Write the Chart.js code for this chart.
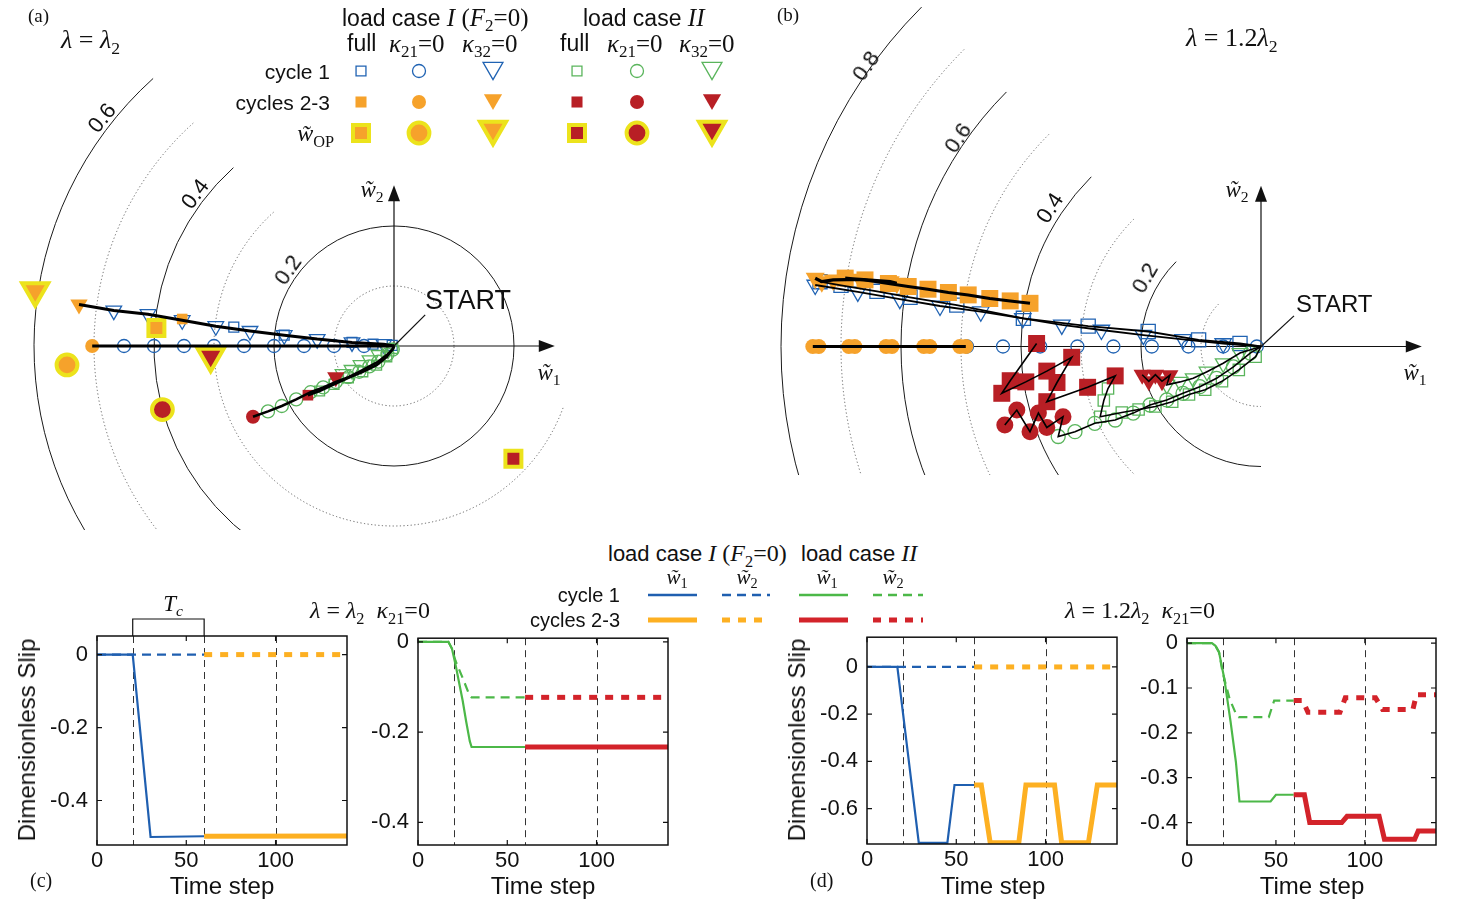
<!DOCTYPE html>
<html>
<head>
<meta charset="utf-8">
<script src="https://cdn.jsdelivr.net/npm/chart.js@4.4.0/dist/chart.umd.min.js"></script>
<style>
  body { margin: 0; background: #fff; width: 1460px; height: 905px; overflow: hidden; position: relative;
         font-family: 'Liberation Sans', Arial, sans-serif; color: #111; }
  canvas { position: absolute; }
  .t { position: absolute; white-space: nowrap; line-height: 1; transform: translateY(-50%); z-index: 5; }
  .r { transform: translate(-100%, -50%); }
  .c { transform: translate(-50%, -50%); }
  .s { font-family: 'Liberation Serif', 'Times New Roman', serif; }
  sub { font-size: 0.68em; vertical-align: -0.35em; line-height: 0; }
  svg { position: absolute; z-index: 4; }
</style>
</head>
<body>

<canvas id="pa" width="770" height="540" style="left:0;top:0"></canvas>
<canvas id="pb" width="690" height="540" style="left:770px;top:0"></canvas>
<canvas id="cl" width="337" height="300" style="left:22px;top:590px"></canvas>
<canvas id="cr" width="337" height="274" style="left:343px;top:616px"></canvas>
<canvas id="dl" width="337" height="274" style="left:792px;top:615px"></canvas>
<canvas id="dr" width="336" height="274" style="left:1112px;top:616px"></canvas>

<!-- panel (a) texts -->
<div class="t s" style="left:28px;top:15px;font-size:19px">(a)</div>
<div class="t s" style="left:61px;top:40px;font-size:26px"><i>λ</i> = <i>λ</i><sub>2</sub></div>
<div class="t" style="left:342px;top:17px;font-size:23px">load case <span class="s" style="font-size:25px"><i>I</i> (<i>F</i><sub>2</sub>=0)</span></div>
<div class="t" style="left:583px;top:17px;font-size:23px">load case <span class="s" style="font-size:25px"><i>II</i></span></div>
<div class="t" style="left:347px;top:43px;font-size:23px">full</div>
<div class="t s" style="left:389px;top:43px;font-size:25px"><i>κ</i><sub>21</sub>=0</div>
<div class="t s" style="left:462px;top:43px;font-size:25px"><i>κ</i><sub>32</sub>=0</div>
<div class="t" style="left:560px;top:43px;font-size:23px">full</div>
<div class="t s" style="left:607px;top:43px;font-size:25px"><i>κ</i><sub>21</sub>=0</div>
<div class="t s" style="left:679px;top:43px;font-size:25px"><i>κ</i><sub>32</sub>=0</div>
<div class="t r" style="left:330px;top:71px;font-size:21px">cycle 1</div>
<div class="t r" style="left:330px;top:102px;font-size:21px">cycles 2-3</div>
<div class="t r s" style="left:334px;top:133px;font-size:24px"><i>w&#771;</i><sub>OP</sub></div>
<div class="t c" style="left:102px;top:118px;font-size:22px;transform:translate(-50%,-50%) rotate(-52deg)">0.6</div>
<div class="t c" style="left:195px;top:194px;font-size:22px;transform:translate(-50%,-50%) rotate(-53deg)">0.4</div>
<div class="t c" style="left:288px;top:270px;font-size:22px;transform:translate(-50%,-50%) rotate(-55deg)">0.2</div>
<div class="t c s" style="left:372px;top:189px;font-size:23px"><i>w&#771;</i><sub>2</sub></div>
<div class="t c s" style="left:549px;top:372px;font-size:23px"><i>w&#771;</i><sub>1</sub></div>
<div class="t" style="left:425px;top:300px;font-size:27px">START</div>

<!-- panel (b) texts -->
<div class="t s" style="left:777px;top:14px;font-size:19px">(b)</div>
<div class="t s" style="left:1186px;top:38px;font-size:26px"><i>λ</i> = 1.2<i>λ</i><sub>2</sub></div>
<div class="t c" style="left:866px;top:66px;font-size:22px;transform:translate(-50%,-50%) rotate(-55deg)">0.8</div>
<div class="t c" style="left:958px;top:138px;font-size:22px;transform:translate(-50%,-50%) rotate(-56deg)">0.6</div>
<div class="t c" style="left:1050px;top:208px;font-size:22px;transform:translate(-50%,-50%) rotate(-57deg)">0.4</div>
<div class="t c" style="left:1145px;top:278px;font-size:22px;transform:translate(-50%,-50%) rotate(-60deg)">0.2</div>
<div class="t c s" style="left:1237px;top:189px;font-size:23px"><i>w&#771;</i><sub>2</sub></div>
<div class="t c s" style="left:1415px;top:372px;font-size:23px"><i>w&#771;</i><sub>1</sub></div>
<div class="t" style="left:1296px;top:304px;font-size:24px">START</div>

<!-- lower legend -->
<div class="t" style="left:608px;top:553px;font-size:22px">load case <span class="s" style="font-size:24px"><i>I</i> (<i>F</i><sub>2</sub>=0)</span></div>
<div class="t" style="left:801px;top:553px;font-size:22px">load case <span class="s" style="font-size:24px"><i>II</i></span></div>
<div class="t c s" style="left:677px;top:577px;font-size:21px"><i>w&#771;</i><sub>1</sub></div>
<div class="t c s" style="left:747px;top:577px;font-size:21px"><i>w&#771;</i><sub>2</sub></div>
<div class="t c s" style="left:827px;top:577px;font-size:21px"><i>w&#771;</i><sub>1</sub></div>
<div class="t c s" style="left:893px;top:577px;font-size:21px"><i>w&#771;</i><sub>2</sub></div>
<div class="t r" style="left:620px;top:595px;font-size:20px">cycle 1</div>
<div class="t r" style="left:620px;top:620px;font-size:20px">cycles 2-3</div>
<svg width="300" height="50" style="left:640px;top:585px">
  <line x1="8" y1="10" x2="57" y2="10" stroke="#1f5fb0" stroke-width="2.5"/>
  <line x1="82" y1="10" x2="130" y2="10" stroke="#1f5fb0" stroke-width="2.5" stroke-dasharray="9 6"/>
  <line x1="159" y1="10" x2="208" y2="10" stroke="#4cb848" stroke-width="2.5"/>
  <line x1="233" y1="10" x2="283" y2="10" stroke="#4cb848" stroke-width="2.5" stroke-dasharray="9 6"/>
  <line x1="8" y1="35" x2="57" y2="35" stroke="#fdb022" stroke-width="5"/>
  <line x1="82" y1="35" x2="130" y2="35" stroke="#fdb022" stroke-width="5" stroke-dasharray="8 8"/>
  <line x1="159" y1="35" x2="208" y2="35" stroke="#d3232a" stroke-width="5"/>
  <line x1="233" y1="35" x2="283" y2="35" stroke="#d3232a" stroke-width="5" stroke-dasharray="8 8"/>
</svg>

<!-- lower panels texts -->
<div class="t s" style="left:310px;top:610px;font-size:24px"><i>λ</i> = <i>λ</i><sub>2</sub>&nbsp;&nbsp;<i>κ</i><sub>21</sub>=0</div>
<div class="t s" style="left:1065px;top:610px;font-size:24px"><i>λ</i> = 1.2<i>λ</i><sub>2</sub>&nbsp;&nbsp;<i>κ</i><sub>21</sub>=0</div>
<div class="t c s" style="left:173px;top:603px;font-size:23px"><i>T</i><sub><i>c</i></sub></div>
<div class="t c" style="left:27px;top:740px;font-size:24px;transform:translate(-50%,-50%) rotate(-90deg)">Dimensionless Slip</div>
<div class="t c" style="left:797px;top:740px;font-size:24px;transform:translate(-50%,-50%) rotate(-90deg)">Dimensionless Slip</div>
<div class="t c" style="left:222px;top:886px;font-size:24px">Time step</div>
<div class="t c" style="left:543px;top:886px;font-size:24px">Time step</div>
<div class="t c" style="left:993px;top:886px;font-size:24px">Time step</div>
<div class="t c" style="left:1312px;top:886px;font-size:24px">Time step</div>
<div class="t s" style="left:30px;top:880px;font-size:20px">(c)</div>
<div class="t s" style="left:810px;top:880px;font-size:20px">(d)</div>

<script>
/* ================= DATA : panel (a), lambda = lambda2 ================= */
const start = [0, 0];

// load case I, cycle 1 (open blue)
const aFullC1 = [[-0.003, 0.001], [-0.035, 0.003], [-0.07, 0.006], [-0.183, 0.018], [-0.267, 0.0315]];
const aK21C1 = [[-0.05, 0], [-0.1, 0], [-0.15, 0], [-0.2, 0], [-0.25, 0], [-0.3, 0], [-0.35, 0], [-0.4, 0], [-0.45, 0]];
const aK32C1 = [[-0.017, 0.003], [-0.07, 0.006], [-0.128, 0.0115], [-0.183, 0.018], [-0.24, 0.025],
                [-0.297, 0.033], [-0.353, 0.043], [-0.41, 0.053], [-0.467, 0.059]];
// load case I, cycles 2-3 (orange)
const aFullC23 = [[-0.353, 0.045]];
const aK21C23 = [[-0.503, 0]];
const aK32C23 = [[-0.525, 0.069]];
// load case II, cycle 1 (open green)
const aIIFullC1 = [[-0.002, -0.004], [-0.012, -0.018], [-0.029, -0.032], [-0.052, -0.043], [-0.076, -0.053],
                   [-0.1, -0.064], [-0.124, -0.075]];
const aIIK21C1 = [[-0.002, -0.006], [-0.011, -0.014], [-0.026, -0.026], [-0.041, -0.034], [-0.058, -0.043],
                  [-0.076, -0.052], [-0.097, -0.06], [-0.118, -0.069], [-0.139, -0.077], [-0.163, -0.089],
                  [-0.187, -0.1], [-0.21, -0.109]];
const aIIK32C1 = [[-0.01, -0.006], [-0.025, -0.015], [-0.04, -0.024], [-0.055, -0.032], [-0.07, -0.04], [-0.085, -0.047]];
// load case II, cycles 2-3 (red)
const aIIFullC23 = [[-0.1435, -0.082]];
const aIIK21C23 = [[-0.235, -0.118]];
const aIIK32C23 = [[-0.097, -0.052]];
// operating points  [full, k21=0, k32=0]
const aOpI = [[-0.396, 0.030], [-0.545, -0.0315], [-0.598, 0.092]];
const aOpII = [[0.199, -0.188], [-0.386, -0.106], [-0.3055, -0.017]];

/* ================= DATA : panel (b), lambda = 1.2 lambda2 ================= */
const bFullC1 = [[-0.035, 0.005], [-0.104, 0.011], [-0.188, 0.025], [-0.288, 0.034], [-0.396, 0.047],
                 [-0.507, 0.069], [-0.585, 0.082], [-0.64, 0.092], [-0.70, 0.102], [-0.735, 0.108]];
const bK21C1 = [[-0.007, 0], [-0.063, 0], [-0.121, 0], [-0.182, 0], [-0.246, 0], [-0.306, 0], [-0.368, 0], [-0.43, 0], [-0.49, 0]];
const bK32C1 = [[-0.063, 0.005], [-0.13, 0.012], [-0.196, 0.019], [-0.266, 0.0275], [-0.332, 0.036], [-0.397, 0.047],
                [-0.467, 0.058], [-0.535, 0.0675], [-0.602, 0.079], [-0.672, 0.091], [-0.743, 0.1025]];
const bFullC23 = [[-0.385, 0.072], [-0.418, 0.076], [-0.452, 0.08], [-0.488, 0.086], [-0.521, 0.09], [-0.555, 0.0955],
                  [-0.588, 0.1], [-0.621, 0.105], [-0.66, 0.111], [-0.693, 0.114]];
const bK21C23 = [[-0.492, 0], [-0.502, 0], [-0.552, 0], [-0.562, 0], [-0.615, 0], [-0.625, 0], [-0.677, 0], [-0.687, 0],
                 [-0.737, 0], [-0.747, 0]];
const bK32C23 = [[-0.607, 0.1055], [-0.618, 0.108], [-0.668, 0.112], [-0.713, 0.111], [-0.732, 0.108], [-0.743, 0.1137]];
const bIIFullC1 = [[-0.009, -0.017], [-0.037, -0.039], [-0.065, -0.058], [-0.093, -0.072], [-0.12, -0.08], [-0.148, -0.092],
                   [-0.176, -0.1], [-0.204, -0.105], [-0.232, -0.11], [-0.268, -0.117], [-0.262, -0.09], [-0.255, -0.07],
                   [-0.243, -0.049]];
const bIIK21C1 = [[-0.018, -0.011], [-0.046, -0.034], [-0.074, -0.053], [-0.102, -0.067], [-0.13, -0.078], [-0.157, -0.089],
                  [-0.185, -0.0975], [-0.213, -0.111], [-0.243, -0.1225], [-0.277, -0.128], [-0.31, -0.142], [-0.338, -0.15]];
const bIIK32C1 = [[-0.035, -0.011], [-0.063, -0.028], [-0.09, -0.042], [-0.113, -0.053], [-0.135, -0.059], [-0.157, -0.064]];
const bIIFullC23 = [[-0.243, -0.049], [-0.289, -0.068], [-0.357, -0.092], [-0.34, -0.06], [-0.3155, -0.018], [-0.357, -0.041],
                    [-0.392, -0.059], [-0.432, -0.078], [-0.418, -0.057], [-0.374, 0.005]];
const bIIK21C23 = [[-0.33, -0.117], [-0.357, -0.135], [-0.371, -0.111], [-0.385, -0.142], [-0.407, -0.106], [-0.427, -0.131]];
const bIIK32C23 = [[-0.152, -0.048], [-0.165, -0.058], [-0.176, -0.047], [-0.187, -0.058], [-0.198, -0.047]];

/* ================= DATA : slip histories (c), (d) ================= */
const xTicks = [0, 50, 100];
const cycleMarks = [20, 60, 100];

// (c) lambda = lambda2, load case I
const cIw1T = [0, 20, 30, 60], cIw1 = [0, 0, -0.5, -0.498];
const cIw1T23 = [60, 140], cIw1_23 = [-0.498, -0.497];
const cIw2T = [0, 60], cIw2 = [0, 0];
const cIw2T23 = [60, 140], cIw2_23 = [0, 0];
// (c) lambda = lambda2, kappa21 = 0, load case II
const cIIw1T = [0, 17, 19, 21, 23, 25, 27, 29, 30, 60];
const cIIw1 = [0, 0, -0.015, -0.05, -0.09, -0.13, -0.177, -0.22, -0.233, -0.233];
const cIIw1T23 = [60, 140], cIIw1_23 = [-0.233, -0.233];
const cIIw2T = [0, 17, 19, 21, 25, 29, 30, 60];
const cIIw2 = [0, 0, -0.015, -0.042, -0.08, -0.12, -0.123, -0.123];
const cIIw2T23 = [60, 140], cIIw2_23 = [-0.123, -0.123];
// (d) lambda = 1.2 lambda2, load case I
const dIw1T = [0, 17, 29, 45, 49, 60], dIw1 = [0, 0, -0.745, -0.745, -0.5, -0.5];
const dIw1T23 = [60, 64, 69, 85, 89, 105, 109, 124, 129, 140];
const dIw1_23 = [-0.5, -0.5, -0.745, -0.745, -0.5, -0.5, -0.745, -0.745, -0.5, -0.5];
const dIw2T = [0, 60], dIw2 = [0, 0];
const dIw2T23 = [60, 140], dIw2_23 = [0, 0];
// (d) lambda = 1.2 lambda2, kappa21 = 0, load case II
const dIIw1T = [0, 14, 16, 18, 21, 24.5, 27.5, 29.5, 47, 50, 60];
const dIIw1 = [0, 0, -0.006, -0.02, -0.08, -0.175, -0.265, -0.353, -0.353, -0.338, -0.338];
const dIIw1T23 = [60, 66, 69, 87, 90, 108, 111, 128, 130, 140];
const dIIw1_23 = [-0.338, -0.338, -0.4, -0.4, -0.386, -0.386, -0.437, -0.437, -0.419, -0.419];
const dIIw2T = [0, 14, 16, 18, 20, 24, 28, 29, 46, 49, 60];
const dIIw2 = [0, 0, -0.006, -0.02, -0.065, -0.125, -0.162, -0.165, -0.165, -0.128, -0.128];
const dIIw2T23 = [60, 65, 68, 86, 89, 106, 110, 127, 129, 140];
const dIIw2_23 = [-0.128, -0.128, -0.154, -0.154, -0.122, -0.122, -0.148, -0.148, -0.115, -0.115];

/* ================= STYLE ================= */
const BLUE = '#2063b3', ORANGE = '#f6a22b', GREEN = '#5ab55c', RED = '#b81f25', YELLOW = '#ece31c';
const L_BLUE = '#1f5fb0', L_ORANGE = '#fdb022', L_GREEN = '#4cb848', L_RED = '#d3232a';

Chart.defaults.font.family = "'Liberation Sans', Arial, sans-serif";
Chart.defaults.color = '#111';

const pts = arr => arr.map(([x, y]) => ({ x, y }));

function marker(data, style, r, color, open, extra) {
  const tri = style === 'tri';
  return Object.assign({
    data: pts(data), showLine: false,
    pointStyle: tri ? 'triangle' : style,
    pointRotation: tri ? 180 : 0,
    pointRadius: r,
    pointBackgroundColor: open ? 'rgba(0,0,0,0)' : color,
    pointBorderColor: color,
    pointBorderWidth: open ? 1.3 : 0
  }, extra || {});
}
function opMarker(p, style, r, color) {
  return marker([p], style, r, color, false, { pointBorderColor: YELLOW, pointBorderWidth: 4 });
}
function path(data, w) {
  return { data: pts(data), showLine: true, pointRadius: 0, borderColor: '#000', borderWidth: w, fill: false, tension: 0 };
}

/* ================= POLAR PANELS ================= */
function ringPlugin(cfg) {
  return {
    id: 'rings',
    beforeDatasetsDraw(chart) {
      const { ctx } = chart, sx = chart.scales.x, sy = chart.scales.y;
      const ox = sx.getPixelForValue(0), oy = sy.getPixelForValue(0);
      ctx.save();
      ctx.beginPath();
      ctx.rect(0, 0, chart.width, sy.getPixelForValue(cfg.clipY));
      ctx.clip();
      cfg.rings.forEach(([r, from, to]) => {
        const rp = sx.getPixelForValue(r) - ox;
        const solid = Math.round(r * 10) % 2 === 0;
        ctx.beginPath();
        ctx.arc(ox, oy, rp, -from * Math.PI / 180, -to * Math.PI / 180, true);
        ctx.setLineDash(solid ? [] : [1.2, 2.4]);
        ctx.lineWidth = solid ? 1 : 0.9;
        ctx.strokeStyle = solid ? '#1a1a1a' : '#555';
        ctx.stroke();
      });
      ctx.restore();

      // axes with arrows
      ctx.save();
      ctx.strokeStyle = '#111';
      ctx.fillStyle = '#111';
      ctx.lineWidth = 1.2;
      const xl = sx.getPixelForValue(cfg.axisFrom), xr = sx.getPixelForValue(cfg.axisTo);
      const yt = sy.getPixelForValue(cfg.axisTo);
      ctx.beginPath();
      ctx.moveTo(xl, oy); ctx.lineTo(xr - 10, oy);
      ctx.moveTo(ox, oy); ctx.lineTo(ox, yt + 10);
      ctx.stroke();
      ctx.beginPath();
      ctx.moveTo(xr, oy); ctx.lineTo(xr - 16, oy - 6); ctx.lineTo(xr - 16, oy + 6); ctx.closePath();
      ctx.moveTo(ox, yt); ctx.lineTo(ox - 6, yt + 16); ctx.lineTo(ox + 6, yt + 16); ctx.closePath();
      ctx.fill();
      ctx.restore();
    },
    afterDatasetsDraw(chart) {
      const { ctx } = chart, sx = chart.scales.x, sy = chart.scales.y;
      ctx.save();
      ctx.strokeStyle = '#111';
      ctx.lineWidth = 1.2;
      ctx.beginPath();
      ctx.moveTo(sx.getPixelForValue(0), sy.getPixelForValue(0));
      ctx.lineTo(sx.getPixelForValue(cfg.startTip[0]), sy.getPixelForValue(cfg.startTip[1]));
      ctx.stroke();
      ctx.restore();
      if (cfg.legend) drawMarkerLegend(ctx);
    }
  };
}

function drawMarkerLegend(ctx) {
  const cols = [361, 419, 493, 577, 637, 712];
  const rows = [71, 102, 133];
  const styles = ['rect', 'circle', 'triangle'];
  const sizes = [
    { rect: 7, circle: 6.5, triangle: 11.5 },
    { rect: 7.8, circle: 7, triangle: 10.5 },
    { rect: 11.3, circle: 10.4, triangle: 15 }
  ];
  const c1 = [BLUE, GREEN], c23 = [ORANGE, RED];
  cols.forEach((x, j) => {
    const st = styles[j % 3], lc = Math.floor(j / 3);
    const rot = st === 'triangle' ? 180 : 0;
    rows.forEach((y, i) => {
      const r = sizes[i][st];
      const yy = st === 'triangle' ? y - r / 4 : y;
      ctx.save();
      if (i === 0) {
        ctx.fillStyle = 'rgba(0,0,0,0)'; ctx.strokeStyle = c1[lc]; ctx.lineWidth = 1.3;
        Chart.helpers.drawPoint(ctx, { pointStyle: st, radius: r, rotation: rot, borderWidth: 1.3 }, x, yy);
      } else if (i === 1) {
        ctx.fillStyle = c23[lc];
        Chart.helpers.drawPoint(ctx, { pointStyle: st, radius: r, rotation: rot, borderWidth: 0 }, x, yy);
      } else {
        ctx.fillStyle = c23[lc]; ctx.strokeStyle = YELLOW; ctx.lineWidth = 4;
        Chart.helpers.drawPoint(ctx, { pointStyle: st, radius: r, rotation: rot, borderWidth: 4 }, x, yy);
      }
      ctx.restore();
    });
  });
}

function polarChart(id, cfg, datasets) {
  return new Chart(document.getElementById(id), {
    type: 'scatter',
    data: { datasets },
    options: {
      responsive: false, animation: false, events: [],
      layout: { padding: 0, autoPadding: false },
      plugins: { legend: { display: false }, tooltip: { enabled: false } },
      scales: {
        x: { type: 'linear', display: false, min: cfg.xMin, max: cfg.xMax },
        y: { type: 'linear', display: false, min: cfg.yMin, max: cfg.yMax }
      }
    },
    plugins: [ringPlugin(cfg)]
  });
}

/* panel (a): origin at (394, 346) px, 600 px per unit */
polarChart('pa', {
  xMin: -394 / 600, xMax: (770 - 394) / 600, yMin: -(540 - 346) / 600, yMax: 346 / 600,
  clipY: -(530 - 346) / 600,
  rings: [[0.1, 0, 360], [0.2, 0, 360], [0.3, 132, 340], [0.4, 132, 270], [0.5, 132, 270], [0.6, 132, 270]],
  axisFrom: -0.5, axisTo: 0.268, startTip: [0.052, 0.052], legend: true
}, [
  path([start, ...aK32C1, ...aK32C23], 3),
  path([start, ...aK21C1, ...aK21C23], 3),
  path([start, ...aIIK21C1, ...aIIK21C23], 2.6),
  path([start, ...aIIFullC1, ...aIIFullC23], 2.6),
  opMarker(aOpI[0], 'rect', 11.3, ORANGE),
  opMarker(aOpI[1], 'circle', 10.4, ORANGE),
  opMarker(aOpI[2], 'tri', 15, ORANGE),
  opMarker(aOpII[0], 'rect', 11.3, RED),
  opMarker(aOpII[1], 'circle', 10.4, RED),
  opMarker(aOpII[2], 'tri', 15, RED),
  marker(aIIFullC23, 'rect', 7.5, RED),
  marker(aIIK21C23, 'circle', 7, RED),
  marker(aIIK32C23, 'tri', 10, RED),
  marker(aFullC23, 'rect', 7.5, ORANGE),
  marker(aK21C23, 'circle', 7, ORANGE),
  marker(aK32C23, 'tri', 10, ORANGE),
  marker(aIIFullC1, 'rect', 7, GREEN, true),
  marker(aIIK21C1, 'circle', 6.5, GREEN, true),
  marker(aIIK32C1, 'tri', 9, GREEN, true),
  marker(aFullC1, 'rect', 7, BLUE, true),
  marker(aK21C1, 'circle', 6.5, BLUE, true),
  marker(aK32C1, 'tri', 9, BLUE, true)
]);

/* panel (b): origin at (1261, 346.5) px, 600 px per unit */
polarChart('pb', {
  xMin: -491 / 600, xMax: (690 - 491) / 600, yMin: -(540 - 346.5) / 600, yMax: 346.5 / 600,
  clipY: -(475 - 346.5) / 600,
  rings: [[0.1, 135, 270], [0.2, 135, 270], [0.3, 135, 270], [0.4, 135, 270],
          [0.5, 135, 270], [0.6, 135, 270], [0.7, 135, 270], [0.8, 135, 270]],
  axisFrom: -0.75, axisTo: 0.268, startTip: [0.055, 0.051], legend: false
}, [
  path(bK21C23, 3.2),
  path(bFullC23, 3),
  path(bK32C23, 3.2),
  path([start, ...bK32C1], 1.8),
  path([start, ...bFullC1], 1.8),
  path([start, ...bIIK21C1, ...bIIK21C23], 1.6),
  path([start, ...bIIFullC1, ...bIIFullC23], 1.6),
  path([start, ...bIIK32C1, ...bIIK32C23], 1.6),
  marker(bIIFullC23, 'rect', 12, RED),
  marker(bIIK21C23, 'circle', 8.5, RED),
  marker(bIIK32C23, 'tri', 10, RED),
  marker(bFullC23, 'rect', 12, ORANGE),
  marker(bK21C23, 'circle', 7.5, ORANGE),
  marker(bK32C23, 'tri', 11, ORANGE),
  marker(bIIFullC1, 'rect', 8, GREEN, true),
  marker(bIIK21C1, 'circle', 7, GREEN, true),
  marker(bIIK32C1, 'tri', 9, GREEN, true),
  marker(bFullC1, 'rect', 10, BLUE, true),
  marker(bK21C1, 'circle', 6.5, BLUE, true),
  marker(bK32C1, 'tri', 9.5, BLUE, true)
]);

/* ================= SLIP HISTORY PANELS ================= */
function framePlugin(cfg) {
  return {
    id: 'frame',
    beforeDatasetsDraw(chart) {
      const { ctx, chartArea: a } = chart, sx = chart.scales.x;
      ctx.save();
      ctx.strokeStyle = '#333';
      ctx.lineWidth = 1;
      ctx.setLineDash([7, 5]);
      cycleMarks.forEach(t => {
        const x = Math.round(sx.getPixelForValue(t)) + 0.5;
        ctx.beginPath(); ctx.moveTo(x, a.top); ctx.lineTo(x, a.bottom); ctx.stroke();
      });
      ctx.restore();
    },
    afterDraw(chart) {
      const { ctx, chartArea: a } = chart, sx = chart.scales.x, sy = chart.scales.y;
      ctx.save();
      ctx.strokeStyle = '#111';
      ctx.lineWidth = 1.5;
      ctx.strokeRect(a.left, a.top, a.right - a.left, a.bottom - a.top);
      ctx.lineWidth = 1.2;
      ctx.beginPath();
      xTicks.forEach(v => {
        const x = sx.getPixelForValue(v);
        ctx.moveTo(x, a.bottom); ctx.lineTo(x, a.bottom - 5);
        ctx.moveTo(x, a.top); ctx.lineTo(x, a.top + 5);
      });
      cfg.yTicks.forEach(v => {
        const y = sy.getPixelForValue(v);
        ctx.moveTo(a.left, y); ctx.lineTo(a.left + 5, y);
        ctx.moveTo(a.right, y); ctx.lineTo(a.right - 5, y);
      });
      ctx.stroke();
      if (cfg.bracket) {
        const x1 = sx.getPixelForValue(cycleMarks[0]), x2 = sx.getPixelForValue(cycleMarks[1]);
        const yb = a.top - 17;
        ctx.lineWidth = 1.2;
        ctx.beginPath();
        ctx.moveTo(x1, a.top); ctx.lineTo(x1, yb); ctx.lineTo(x2, yb); ctx.lineTo(x2, a.top);
        ctx.stroke();
      }
      ctx.restore();
    }
  };
}

function series(t, v, color, w, dash) {
  return { data: t.map((x, i) => ({ x, y: v[i] })), borderColor: color, borderWidth: w,
           borderDash: dash || [], pointRadius: 0, fill: false, tension: 0 };
}

function slipChart(id, cfg, datasets) {
  const fmt = v => String(Math.round(v * 100) / 100);
  return new Chart(document.getElementById(id), {
    type: 'line',
    data: { datasets },
    options: {
      responsive: false, animation: false, events: [],
      layout: { padding: { top: cfg.padTop, right: 12, left: 0, bottom: 0 }, autoPadding: false },
      plugins: { legend: { display: false }, tooltip: { enabled: false } },
      scales: {
        x: {
          type: 'linear', min: 0, max: 140,
          grid: { display: false, drawTicks: false }, border: { display: false },
          ticks: { padding: 3, maxRotation: 0, autoSkip: false, font: { size: 22 }, callback: fmt },
          afterBuildTicks: s => { s.ticks = xTicks.map(value => ({ value })); },
          afterFit: s => { s.height = 45; }
        },
        y: {
          type: 'linear', min: cfg.yMin, max: cfg.yMax,
          grid: { display: false, drawTicks: false }, border: { display: false },
          ticks: { padding: 9, autoSkip: false, font: { size: 22 }, callback: fmt },
          afterBuildTicks: s => { s.ticks = cfg.yTicks.map(value => ({ value })); },
          afterFit: s => { s.width = 75; }
        }
      }
    },
    plugins: [framePlugin(cfg)]
  });
}

slipChart('cl', { padTop: 46, yMin: -0.522, yMax: 0.051, yTicks: [0, -0.2, -0.4], bracket: true }, [
  series(cIw1T23, cIw1_23, L_ORANGE, 5),
  series(cIw2T23, cIw2_23, L_ORANGE, 5, [8, 8]),
  series(cIw1T, cIw1, L_BLUE, 2.2),
  series(cIw2T, cIw2, L_BLUE, 2.2, [9, 6])
]);
slipChart('cr', { padTop: 20, yMin: -0.45, yMax: 0.008, yTicks: [0, -0.2, -0.4] }, [
  series(cIIw1T23, cIIw1_23, L_RED, 5),
  series(cIIw2T23, cIIw2_23, L_RED, 5, [8, 8]),
  series(cIIw1T, cIIw1, L_GREEN, 2.2),
  series(cIIw2T, cIIw2, L_GREEN, 2.2, [9, 6])
]);
slipChart('dl', { padTop: 20, yMin: -0.75, yMax: 0.126, yTicks: [0, -0.2, -0.4, -0.6] }, [
  series(dIw1T23, dIw1_23, L_ORANGE, 5),
  series(dIw2T23, dIw2_23, L_ORANGE, 5, [8, 8]),
  series(dIw1T, dIw1, L_BLUE, 2.2),
  series(dIw2T, dIw2, L_BLUE, 2.2, [9, 6])
]);
slipChart('dr', { padTop: 20, yMin: -0.45, yMax: 0.011, yTicks: [0, -0.1, -0.2, -0.3, -0.4] }, [
  series(dIIw1T23, dIIw1_23, L_RED, 5),
  series(dIIw2T23, dIIw2_23, L_RED, 5, [8, 8]),
  series(dIIw1T, dIIw1, L_GREEN, 2.2),
  series(dIIw2T, dIIw2, L_GREEN, 2.2, [9, 6])
]);
</script>
</body>
</html>
